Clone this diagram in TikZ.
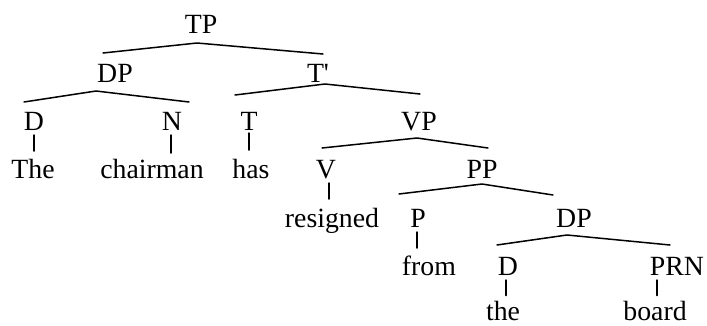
\documentclass[tikz,border=0pt]{standalone}
\usepackage{fontspec}
\setmainfont{Liberation Serif}
\begin{document}
\begin{tikzpicture}[x=1pt,y=-1pt,
  lbl/.style={anchor=base,inner sep=0pt,font=\fontsize{27.8}{30}\selectfont},
  edge/.style={line width=1.5pt,line cap=round,line join=round}]
\useasboundingbox (0,0) rectangle (707,325);

% category labels and words, placed by their baselines
\node[lbl] (tp)       at (201,33)  {TP};
\node[lbl] (dpa)      at (115,82)  {DP};
\node[lbl] (tbar)     at (318,82)  {T\textquotesingle};
\node[lbl] (da)       at (34,130)  {D};
\node[lbl] (na)       at (172,130) {N};
\node[lbl] (ta)       at (249,130) {T};
\node[lbl] (vp)       at (419,130) {VP};
\node[lbl] (wthe)     at (33,178)  {The};
\node[lbl] (wchair)   at (152,178) {chairman};
\node[lbl] (whas)     at (251,178) {has};
\node[lbl] (va)       at (326,178) {V};
\node[lbl] (pp)       at (482,178) {PP};
\node[lbl] (wresign)  at (332,227) {resigned};
\node[lbl] (pa)       at (418,227) {P};
\node[lbl] (dpb)      at (574,227) {DP};
\node[lbl] (wfrom)    at (429,275) {from};
\node[lbl] (db)       at (508,275) {D};
\node[lbl] (prn)      at (677,275) {PRN};
\node[lbl] (wthe2)    at (503,320.5) {the};
\node[lbl] (wboard)   at (655,320.5) {board};

% branching edges
\draw[edge] ([shift={(-12,-29)}]dpa.base) -- ([shift={(-4,10)}]tp.base) -- ([shift={(5,-28)}]tbar.base);
\draw[edge] ([shift={(-10,-28)}]da.base) -- ([shift={(-19,9)}]dpa.base) -- ([shift={(17,-28)}]na.base);
\draw[edge] ([shift={(-14,-35)}]ta.base) -- ([shift={(7,2)}]tbar.base) -- ([shift={(1,-36)}]vp.base);
\draw[edge] ([shift={(-4,-30)}]va.base) -- ([shift={(-2,8)}]vp.base) -- ([shift={(6,-30)}]pp.base);
\draw[edge] ([shift={(-19,-33)}]pa.base) -- ([shift={(0,6)}]pp.base) -- ([shift={(-21,-32)}]dpb.base);
\draw[edge] ([shift={(-11,-30)}]db.base) -- ([shift={(-7,8)}]dpb.base) -- ([shift={(-7,-30)}]prn.base);

% unary edges to the words
\draw[edge] ([shift={(0,5)}]da.base)   -- ([shift={(1,-27)}]wthe.base);
\draw[edge] ([shift={(-1,5)}]na.base)  -- ([shift={(19,-25)}]wchair.base);
\draw[edge] ([shift={(0,3)}]ta.base)   -- ([shift={(-2,-28)}]whas.base);
\draw[edge] ([shift={(3,5)}]va.base)   -- ([shift={(-3,-28)}]wresign.base);
\draw[edge] ([shift={(-1,5)}]pa.base)  -- ([shift={(-12,-27)}]wfrom.base);
\draw[edge] ([shift={(-2,5)}]db.base)  -- ([shift={(3,-25)}]wthe2.base);
\draw[edge] ([shift={(-20,5)}]prn.base) -- ([shift={(2,-25)}]wboard.base);
\end{tikzpicture}
\end{document}
